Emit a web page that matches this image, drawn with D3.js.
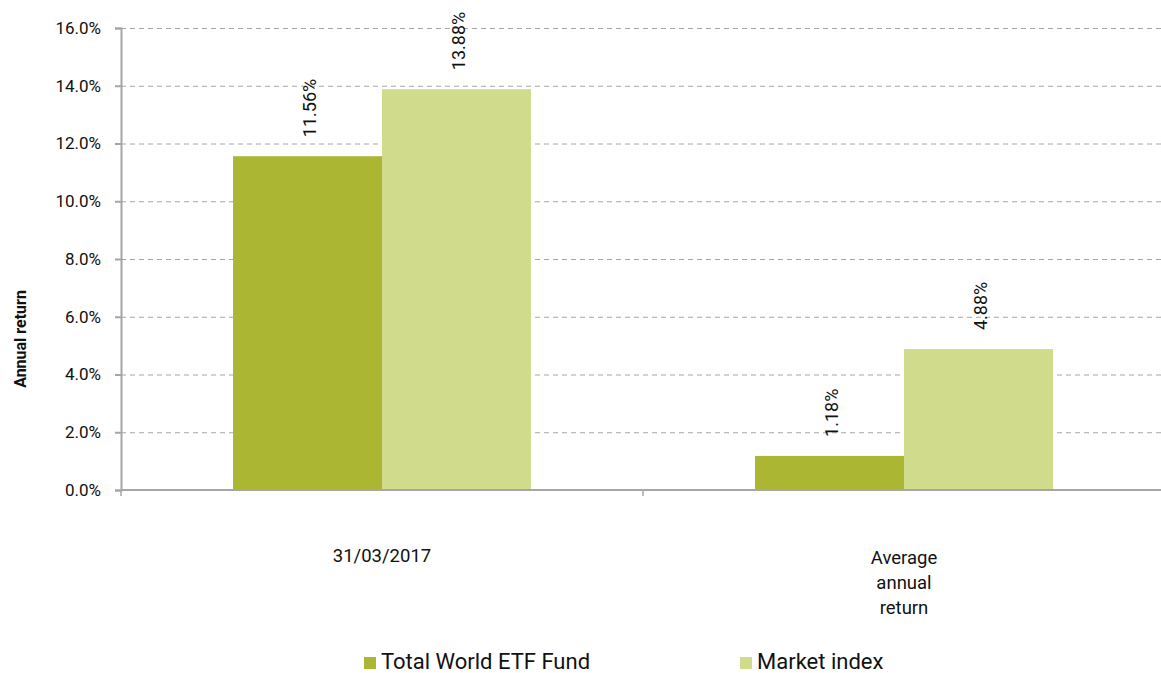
<!DOCTYPE html>
<html>
<head>
<meta charset="utf-8">
<script src="https://cdn.jsdelivr.net/npm/d3@7"></script>
<style>
  body { margin: 0; background: #fff; overflow: hidden; }
  #chart { width: 1161px; height: 673px; }
  text { font-family: Roboto, "Open Sans", sans-serif; }
</style>
</head>
<body>
<div id="chart"></div>
<script>
// Annual return: fund vs market index
const categories = ["31/03/2017", "Average annual return"];
const categoryLines = [["31/03/2017"], ["Average", "annual", "return"]];
const seriesNames = ["Total World ETF Fund", "Market index"];
const fundValues = [11.56, 1.18];
const indexValues = [13.88, 4.88];
const yTicks = [0, 2, 4, 6, 8, 10, 12, 14, 16];

const colors = ["#abb733", "#d0dc8c"];

const W = 1161, H = 673;
const M = {t: 28, r: -4, b: 183, l: 121};

const svg = d3.select('#chart').append('svg').attr('width', W).attr('height', H);

const x = d3.scaleBand()
  .domain(categories)
  .range([M.l, W - M.r]);

const xs = d3.scaleBand()
  .domain(seriesNames)
  .range([112, x.bandwidth() - 112]);

const y = d3.scaleLinear()
  .domain([0, 16])
  .range([H - M.b, M.t]);

// gridlines
svg.append("g")
  .selectAll("line")
  .data(yTicks.filter(d => d > 0))
  .enter().append("line")
  .attr("x1", M.l).attr("x2", W)
  .attr("y1", d => y(d) + 0.5).attr("y2", d => y(d) + 0.5)
  .attr("stroke", "#a6a6a6")
  .attr("stroke-dasharray", "5,4");

// bars
const rows = categories.map((c, i) => ({cat: c, vals: [fundValues[i], indexValues[i]]}));

const groups = svg.append("g").selectAll("g")
  .data(rows).enter().append("g")
  .attr("transform", d => `translate(${x(d.cat)},0)`);

groups.selectAll("rect")
  .data(d => d.vals.map((v, j) => ({name: seriesNames[j], v, j})))
  .enter().append("rect")
  .attr("x", d => xs(d.name))
  .attr("width", xs.bandwidth())
  .attr("y", d => y(d.v))
  .attr("height", d => y(0) - y(d.v))
  .attr("fill", d => colors[d.j]);

groups.selectAll("text.val")
  .data(d => d.vals.map((v, j) => ({name: seriesNames[j], v, j})))
  .enter().append("text")
  .attr("class", "val")
  .attr("transform", d => `translate(${xs(d.name) + xs.bandwidth() / 2 + 8},${y(d.v) - 19}) rotate(-90)`)
  .attr("font-size", "18px")
  .attr("fill", "#111")
  .text(d => d.v.toFixed(2) + "%");

// y axis
const yAxis = svg.append("g")
  .attr("transform", `translate(${M.l},0)`)
  .call(d3.axisLeft(y).tickValues(yTicks).tickSize(6).tickFormat(d => d.toFixed(1) + "%"));
yAxis.select(".domain").attr("stroke", "#a6a6a6").attr("stroke-width", 2);
yAxis.selectAll(".tick line").attr("stroke", "#a6a6a6").attr("stroke-width", 2);
yAxis.selectAll(".tick text").attr("font-size", "17px").attr("fill", "#111").attr("x", -20)
  .attr("font-family", "Roboto, sans-serif");

// x axis
const xAxisG = svg.append("g").attr("transform", `translate(0,${y(0)})`);
xAxisG.append("line")
  .attr("x1", M.l).attr("x2", W)
  .attr("stroke", "#a6a6a6").attr("stroke-width", 2);
xAxisG.selectAll("line.tick")
  .data([M.l].concat(categories.map(c => x(c) + x.bandwidth())))
  .enter().append("line")
  .attr("class", "tick")
  .attr("x1", d => d).attr("x2", d => d)
  .attr("y1", 0).attr("y2", 6)
  .attr("stroke", "#a6a6a6").attr("stroke-width", 1.5);

// category labels
categories.forEach((c, i) => {
  const cx = x(c) + x.bandwidth() / 2;
  const t = svg.append("text")
    .attr("x", cx)
    .attr("y", i === 0 ? 562 : 564)
    .attr("text-anchor", "middle")
    .attr("font-size", "18.5px")
    .attr("fill", "#111");
  categoryLines[i].forEach((ln, k) => {
    t.append("tspan")
      .attr("x", cx)
      .attr("dy", k === 0 ? 0 : 25)
      .text(ln);
  });
});

// y axis title
svg.append("text")
  .attr("transform", `translate(26,339) rotate(-90)`)
  .attr("text-anchor", "middle")
  .attr("font-size", "16px")
  .attr("font-weight", "700")
  .attr("fill", "#111")
  .text("Annual return");

// legend
const legendX = [364, 740];
seriesNames.forEach((s, i) => {
  svg.append("rect")
    .attr("x", legendX[i]).attr("y", 657)
    .attr("width", 12).attr("height", 12)
    .attr("fill", colors[i]);
  svg.append("text")
    .attr("x", legendX[i] + 17).attr("y", 669)
    .attr("font-size", "22px")
    .attr("fill", "#111")
    .text(s);
});
</script>
</body>
</html>
